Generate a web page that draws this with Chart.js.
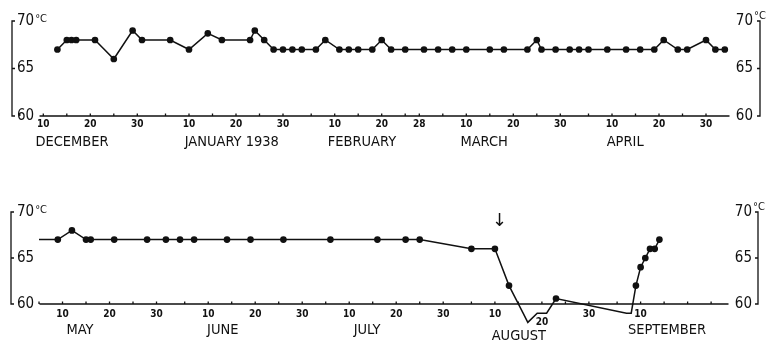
<!DOCTYPE html>
<html>
<head>
<meta charset="utf-8">
<script src="https://cdn.jsdelivr.net/npm/chart.js@4.4.0/dist/chart.umd.min.js"></script>
<style>
  body { margin: 0; background: #fff; width: 767px; height: 343px; overflow: hidden; }
  canvas { display: block; }
</style>
</head>
<body>
<canvas id="topChart" width="767" height="155"></canvas>
<canvas id="bottomChart" width="767" height="188"></canvas>
<script>
/* top panel: day 0 = 1 December 1937 */
const topDays = [12, 14, 15, 16, 20, 24, 28, 30, 36, 40, 44, 47, 53, 54, 56, 58, 60, 62, 64, 67,
    69, 72, 74, 76, 79, 81, 83, 86, 90, 93, 96, 99, 104, 107, 112, 114, 115, 118, 121, 123,
    125, 129, 133, 136, 139, 141, 144, 146, 150, 152, 154];
const topTemps = [67, 68, 68, 68, 68, 66, 69, 68, 68, 67, 68.7, 68, 68, 69, 68, 67, 67, 67, 67, 67,
    68, 67, 67, 67, 67, 68, 67, 67, 67, 67, 67, 67, 67, 67, 67, 68, 67, 67, 67, 67,
    67, 67, 67, 67, 67, 68, 67, 67, 68, 67, 67];

/* bottom panel: day 0 = 1 May 1938 */
const bottomDays = [4, 8, 11, 14, 15, 20, 27, 31, 34, 37, 44, 49, 56, 66, 76, 82, 85, 96, 101,
    104, 107, 108, 110, 112, 114, 129, 130, 131, 132, 133, 134, 135, 136];
const bottomTemps = [67, 67, 68, 67, 67, 67, 67, 67, 67, 67, 67, 67, 67, 67, 67, 67, 67, 66, 66,
    62, 59, 58, 59, 59, 60.6, 59, 59, 62, 64, 65, 66, 66, 67];

const tempTicks = [60, 65, 70];

const topTickDays = [9, 19, 29, 40, 50, 60, 71, 81, 89, 99, 109, 119, 130, 140, 150];
const topTickLabels = ['10', '20', '30', '10', '20', '30', '10', '20', '28', '10', '20', '30', '10', '20', '30'];
const bottomTickDays = [9, 19, 29, 40, 50, 60, 70, 80, 90, 101, 111, 121, 132];
const bottomTickLabels = ['10', '20', '30', '10', '20', '30', '10', '20', '30', '10', '20', '30', '10'];

const topMonths = ['DECEMBER', 'JANUARY 1938', 'FEBRUARY', 'MARCH', 'APRIL'];
const topMonthStarts = [0, 31, 62, 90, 121];
const topMonthLengths = [31, 31, 28, 31, 30];
const topMonthAt = [15.1, 49.1, 76.8, 102.8, 132.8];

const bottomMonths = ['MAY', 'JUNE', 'JULY', 'AUGUST', 'SEPTEMBER'];
const bottomMonthStarts = [0, 31, 61, 92, 123];
const bottomMonthLengths = [31, 30, 31, 31, 30];
const bottomMonthAt = [12.7, 43.1, 73.8, 106.1, 137.6];

const FONT = "'DejaVu Sans Condensed', 'DejaVu Sans', sans-serif";
const INK = '#111';

// small marks on the time axis every 5 days (and on 28 Feb)
function fiveDayMarks(starts, lengths, upTo) {
    const out = [];
    starts.forEach((s, i) => {
        [5, 10, 15, 20, 25, 30].forEach(dd => {
            if (dd <= lengths[i] && s + dd - 1 <= upTo) out.push(s + dd - 1);
        });
        if (lengths[i] === 28) out.push(s + 27);
    });
    return out;
}

const axesPlugin = {
    id: 'paperAxes',
    afterDraw(chart) {
        const cfg = chart.options.plugins.paperAxes;
        const ctx = chart.ctx;
        const xs = chart.scales.x, ys = chart.scales.y;
        const area = chart.chartArea;
        const y60 = ys.getPixelForValue(60), y65 = ys.getPixelForValue(65), y70 = ys.getPixelForValue(70);
        const rx = area.right + cfg.rightGap;
        ctx.save();
        ctx.strokeStyle = INK;
        ctx.fillStyle = INK;
        ctx.lineWidth = 1.3;

        // time axis
        ctx.beginPath();
        ctx.moveTo(xs.getPixelForValue(cfg.axisFrom), area.bottom);
        ctx.lineTo(xs.getPixelForValue(cfg.axisTo), area.bottom);
        cfg.marks.forEach(v => {
            const px = xs.getPixelForValue(v);
            ctx.moveTo(px, area.bottom);
            ctx.lineTo(px, area.bottom - 2.5);
        });
        // left and right temperature scales
        ctx.moveTo(area.left + 3, y70); ctx.lineTo(area.left, y70); ctx.lineTo(area.left, y60); ctx.lineTo(area.left + 3, y60);
        ctx.moveTo(area.left, y65); ctx.lineTo(area.left + 3, y65);
        ctx.moveTo(rx - 3, y70); ctx.lineTo(rx, y70); ctx.lineTo(rx, y60); ctx.lineTo(rx - 3, y60);
        ctx.moveTo(rx, y65); ctx.lineTo(rx - 3, y65);
        ctx.stroke();

        // degree sign next to 70
        ctx.font = '15px ' + FONT;
        const w70 = ctx.measureText('70').width;
        ctx.font = '11px ' + FONT;
        ctx.textBaseline = 'top';
        ctx.textAlign = 'left';
        ctx.fillText('°C', area.left + chart.options.scales.y.ticks.padding + w70 + 1, y70 - 7);
        ctx.fillText('°C', area.right + 1, y70 - 10);

        // month names
        ctx.font = '14.5px ' + FONT;
        ctx.textAlign = 'center';
        ctx.textBaseline = 'middle';
        cfg.months.forEach((m, i) => {
            const dy = cfg.lowMonth === m ? cfg.monthDy + 6 : cfg.monthDy;
            ctx.fillText(m, xs.getPixelForValue(cfg.monthAt[i]), area.bottom + dy);
        });

        // tick labels that sit lower than the rest
        ctx.font = 'bold 10px ' + FONT;
        cfg.lowTicks.forEach(v => {
            const i = cfg.tickDays.indexOf(v);
            ctx.fillText(cfg.tickLabels[i], xs.getPixelForValue(v), area.bottom + cfg.tickDy + 8);
        });

        // arrow
        if (cfg.arrow) {
            ctx.font = '18px DejaVu Sans, sans-serif';
            ctx.fillText('↓', xs.getPixelForValue(cfg.arrow.day), ys.getPixelForValue(cfg.arrow.temp));
        }
        ctx.restore();
    }
};

function makeChart(id, days, temps, tickDays, tickLabels, opt) {
    const radius = days.map((d, i) => (opt.noDotFirst && i === 0) ? 0 : 2.6);
    const yAxis = (pos, pad) => ({
        position: pos,
        min: 60,
        max: 70,
        afterBuildTicks: s => { s.ticks = tempTicks.map(v => ({ value: v })); },
        afterFit: s => { s.width = 0; },
        ticks: { mirror: true, padding: pad, color: INK, font: { family: FONT, size: 15 } },
        grid: { display: false, drawTicks: false },
        border: { display: false }
    });
    return new Chart(document.getElementById(id), {
        type: 'line',
        data: {
            datasets: [{
                data: days.map((d, i) => ({ x: d, y: temps[i] })),
                borderColor: INK,
                backgroundColor: INK,
                borderWidth: 1.5,
                pointRadius: radius,
                pointHoverRadius: 0,
                tension: 0,
                clip: false
            }]
        },
        options: {
            responsive: false,
            animation: false,
            events: [],
            layout: { padding: opt.padding },
            plugins: {
                legend: { display: false },
                tooltip: { enabled: false },
                paperAxes: {
                    axisFrom: opt.axisFrom, axisTo: opt.axisTo, marks: opt.marks, rightGap: opt.rightGap,
                    months: opt.months, monthAt: opt.monthAt, monthDy: 26, lowMonth: opt.lowMonth,
                    tickDays: tickDays, tickLabels: tickLabels, lowTicks: opt.lowTicks, tickDy: opt.xPad + 6,
                    arrow: opt.arrow
                }
            },
            scales: {
                x: {
                    type: 'linear',
                    min: opt.xMin,
                    max: opt.xMax,
                    afterBuildTicks: s => { s.ticks = opt.marks.map(v => ({ value: v })); },
                    afterFit: s => { s.height = opt.xPad + 12; },
                    ticks: {
                        autoSkip: false,
                        maxRotation: 0,
                        padding: opt.xPad,
                        color: INK,
                        font: { family: FONT, size: 10, weight: 'bold' },
                        callback: v => {
                            const i = tickDays.indexOf(v);
                            return (i < 0 || opt.lowTicks.includes(v)) ? '' : tickLabels[i];
                        }
                    },
                    grid: { display: false, drawTicks: false },
                    border: { display: false }
                },
                y: yAxis('left', opt.yPadL),
                y2: yAxis('right', 0)
            }
        },
        plugins: [axesPlugin]
    });
}

makeChart('topChart', topDays, topTemps, topTickDays, topTickLabels, {
    padding: { left: 12, right: 14, top: 21, bottom: 25 },
    yPadL: 5, rightGap: 7, xPad: 2,
    xMin: 2.34, xMax: 160.0,
    axisFrom: 8.2, axisTo: 155,
    marks: fiveDayMarks(topMonthStarts, topMonthLengths, 155),
    months: topMonths, monthAt: topMonthAt,
    lowTicks: []
});

makeChart('bottomChart', bottomDays, bottomTemps, bottomTickDays, bottomTickLabels, {
    padding: { left: 11, right: 15, top: 57, bottom: 23 },
    yPadL: 6, rightGap: 6, xPad: 4,
    xMin: -1.96, xMax: 155.7,
    axisFrom: 4.1, axisTo: 150.7,
    marks: fiveDayMarks(bottomMonthStarts, bottomMonthLengths, 150.7),
    months: bottomMonths, monthAt: bottomMonthAt, lowMonth: 'AUGUST',
    lowTicks: [111],
    arrow: { day: 102, temp: 69 },
    noDotFirst: true
});
</script>
</body>
</html>
